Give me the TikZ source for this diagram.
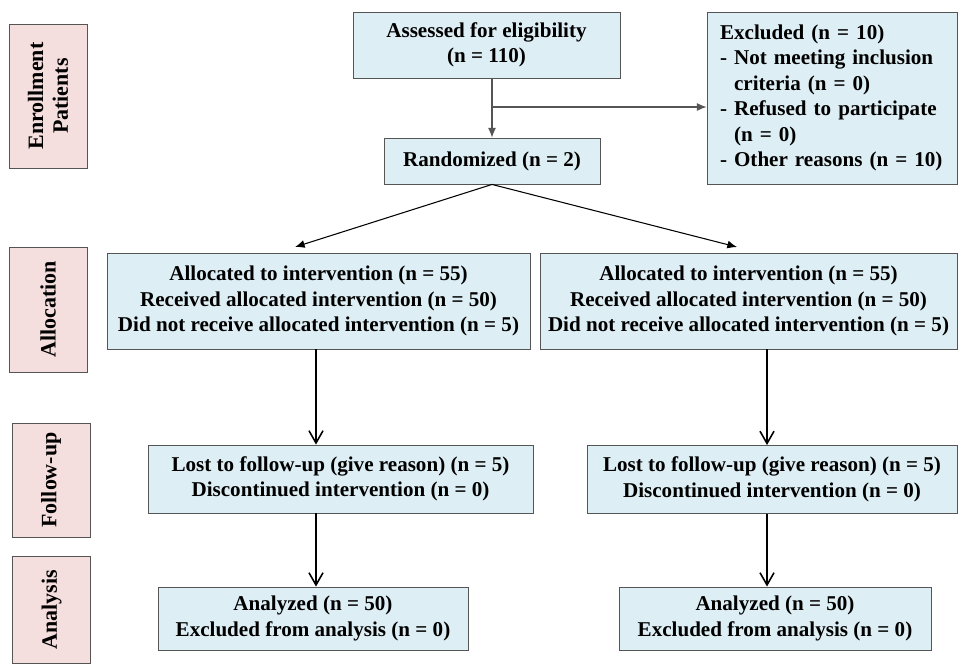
\documentclass[tikz,border=0pt]{standalone}
\usepackage{fontspec}
\setmainfont{Liberation Serif}
\usepackage{xcolor}
\usepackage{tikz}
\usetikzlibrary{arrows.meta}

\definecolor{boxblue}{RGB}{221,238,244}
\definecolor{stagepink}{RGB}{245,223,222}
\definecolor{edgegray}{RGB}{85,85,85}

\begin{document}
\begin{tikzpicture}[x=0.02cm,y=-0.02cm,
    flowbox/.style={draw=edgegray, fill=boxblue, line width=0.5pt, inner sep=2pt,
        align=center, font=\fontsize{12}{14.5}\selectfont\bfseries},
    stagebox/.style={draw=edgegray, fill=stagepink, line width=0.5pt, rotate=90,
        align=center, minimum height=1.56cm, font=\fontsize{12.5}{14}\selectfont\bfseries},
    thinarrow/.style={-{Latex[length=5.5pt,width=4.5pt]}, line width=0.6pt},
    openarrow/.style={-{Straight Barb[length=7pt,width=8pt]}, line width=0.9pt}]

    % Here I fix the page size
    \useasboundingbox (0,0) rectangle (959,664);

    % stage labels on the left
    \node[stagebox, minimum width=2.88cm] (enroll) at (48,96) {Enrollment\\Patients};
    \node[stagebox, minimum width=2.5cm] (alloc) at (48,309.5) {Allocation};
    \node[stagebox, minimum width=2.28cm] (follow) at (51,480) {Follow-up};
    \node[stagebox, minimum width=2.14cm] (analys) at (51.5,609.5) {Analysis};

    % enrollment part
    \node[flowbox, minimum width=5.34cm, minimum height=1.32cm] (assessed) at (486.5,45)
        {Assessed for eligibility\\(n = 110)};
    \node[flowbox, minimum width=4.32cm, minimum height=0.92cm] (random) at (492,161)
        {Randomized (n = 2)};
    \node[flowbox, align=left, text width=4.48cm, inner xsep=0.26cm,
        minimum height=3.44cm] (excluded) at (832,98)
        {Excluded (n = 10)\\
         - Not meeting inclusion\\
         \phantom{-} criteria (n = 0)\\
         - Refused to participate\\
         \phantom{-} (n = 0)\\
         - Other reasons (n = 10)};

    % two arms
    \node[flowbox, minimum width=8.46cm, minimum height=1.92cm] (allocL) at (318.5,301)
        {Allocated to intervention (n = 55)\\
         Received allocated intervention (n = 50)\\
         Did not receive allocated intervention (n = 5)};
    \node[flowbox, minimum width=8.34cm, minimum height=1.92cm] (allocR) at (748.5,301)
        {Allocated to intervention (n = 55)\\
         Received allocated intervention (n = 50)\\
         Did not receive allocated intervention (n = 5)};

    \node[flowbox, minimum width=7.7cm, minimum height=1.36cm] (followL) at (340.5,479)
        {Lost to follow-up (give reason) (n = 5)\\Discontinued intervention (n = 0)};
    \node[flowbox, minimum width=7.4cm, minimum height=1.36cm] (followR) at (772,479.5)
        {Lost to follow-up (give reason) (n = 5)\\Discontinued intervention (n = 0)};

    \node[flowbox, minimum width=6.2cm, minimum height=1.26cm] (analysL) at (313,618.5)
        {Analyzed (n = 50)\\Excluded from analysis (n = 0)};
    \node[flowbox, minimum width=6.24cm, minimum height=1.26cm] (analysR) at (775,618.5)
        {Analyzed (n = 50)\\Excluded from analysis (n = 0)};

    % helper points for the arrows
    \coordinate (split) at (492,107);
    \coordinate (tipL) at (295,247);
    \coordinate (tipR) at (737,247);
    \coordinate (colL) at (316,0);
    \coordinate (colR) at (767,0);

    % Here is the arrows
    \draw[thinarrow, draw=edgegray] (random.north |- assessed.south) -- (random.north);
    \draw[thinarrow, draw=edgegray] (split) -- (split -| excluded.west);
    \draw[thinarrow] (random.south) -- (tipL);
    \draw[thinarrow] (random.south) -- (tipR);

    \draw[openarrow] (allocL.south -| colL) -- (followL.north -| colL);
    \draw[openarrow] (followL.south -| colL) -- (analysL.north -| colL);
    \draw[openarrow] (allocR.south -| colR) -- (followR.north -| colR);
    \draw[openarrow] (followR.south -| colR) -- (analysR.north -| colR);
\end{tikzpicture}
\end{document}
